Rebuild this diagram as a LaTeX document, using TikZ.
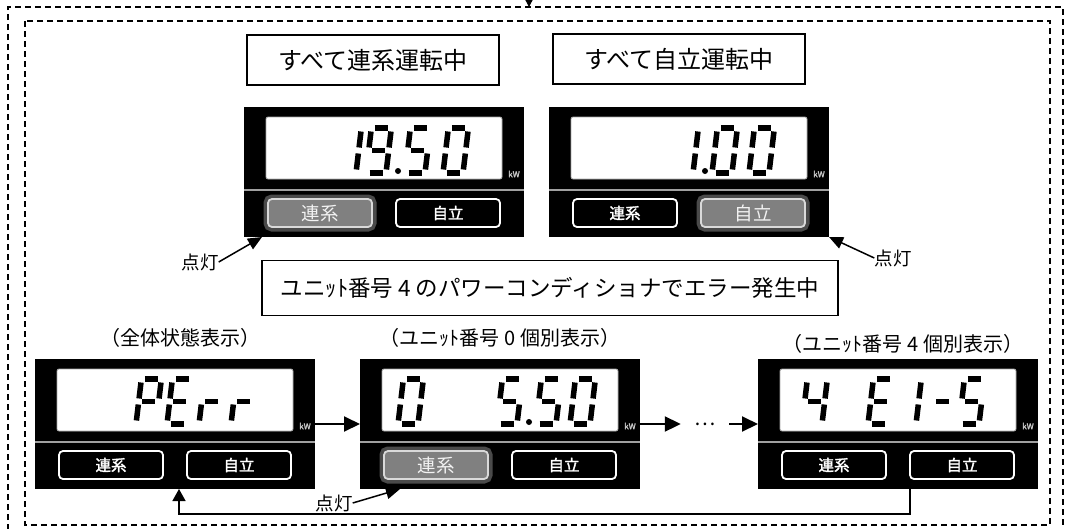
\documentclass[tikz,border=0pt]{standalone}
\usepackage{fontspec}
\setmainfont{Noto Sans CJK JP}
\newfontfamily\btnjp[AutoFakeBold=2]{Noto Sans CJK JP}
\usetikzlibrary{arrows.meta,calc}

\definecolor{litgray}{HTML}{808080}
\definecolor{glowgray}{HTML}{4A4A4A}
\definecolor{sepgray}{HTML}{A0A0A0}

% seven segment strokes, cell 20 x 45, origin at bottom left
\newcommand{\segpatha}{(3.5,-45) -- (16.5,-45)}
\newcommand{\segpathb}{(20,-41.5) -- (20,-25.5)}
\newcommand{\segpathc}{(20,-19.5) -- (20,-3.5)}
\newcommand{\segpathd}{(3.5,0) -- (16.5,0)}
\newcommand{\segpathe}{(0,-19.5) -- (0,-3.5)}
\newcommand{\segpathf}{(0,-41.5) -- (0,-25.5)}
\newcommand{\segpathg}{(3.5,-22.5) -- (16.5,-22.5)}

\newcommand{\lcdchar}[3]{%
  \begin{scope}[shift={(#1,#2)}, xslant=0.12]
    \foreach \s in {#3} {\draw[segline] \csname segpath\s\endcsname;}
  \end{scope}}

% panel: name, x, y, style of left button, style of right button
\newcommand{\lcdpanel}[5]{%
  \node[panel, anchor=north west] (#1) at (#2,#3) {};
  \node[screen, anchor=north west] (#1scr) at ([shift={(22,10)}]#1.north west) {};
  \draw[sepline] ([shift={(0,83)}]#1.north west) -- ([shift={(0,83)}]#1.north east);
  \node[#4] (#1ren) at ([shift={(76,106)}]#1.north west) {連系};
  \node[#5] (#1jir) at ([shift={(204,106)}]#1.north west) {自立};
  \node[kwlabel] (#1kw) at ([shift={(270,67)}]#1.north west) {kW};}

\begin{document}
\begin{tikzpicture}[x=1pt, y=-1pt,
    frameline/.style={dashed, dash pattern=on 6pt off 4pt, line width=1.5pt},
    titlebox/.style={draw, line width=1.2pt, minimum width=252, minimum height=50, inner sep=0pt, font=\fontsize{24}{28}\selectfont},
    errbox/.style={draw, line width=1.2pt, minimum width=576, minimum height=55, inner sep=0pt, font=\fontsize{22.5}{26}\selectfont},
    caption/.style={font=\fontsize{20}{22}\selectfont, inner sep=0pt},
    tento/.style={font=\fontsize{18.5}{20}\selectfont, inner sep=0pt},
    panel/.style={fill=black, minimum width=280, minimum height=130, inner sep=0pt, outer sep=0pt},
    screen/.style={fill=white, draw=gray!70, line width=0.8pt, rounded corners=2pt, minimum width=236, minimum height=62, inner sep=0pt, outer sep=0pt},
    sepline/.style={draw=sepgray, line width=2.5pt},
    btn/.style={draw=white, line width=1.8pt, rounded corners=4pt, fill=black, text=white, minimum width=104, minimum height=28, inner sep=0pt, font=\btnjp\bfseries\fontsize{15.5}{18}\selectfont},
    litbtn/.style={btn, fill=litgray, draw=white!85!black, text=white!95!black, preaction={draw=glowgray, line width=9pt}, font=\mdseries\fontsize{18.5}{20}\selectfont},
    kwlabel/.style={text=white!80!black, inner sep=0pt, font=\btnjp\bfseries\fontsize{8}{8}\selectfont},
    segline/.style={line width=5.5pt, line cap=butt},
    flow/.style={line width=2pt, -{Triangle[length=16pt,width=15pt]}},
    pointer/.style={line width=1.5pt, -{Triangle[length=14pt,width=12pt]}},
    retline/.style={line width=1.5pt, -{Triangle[length=12pt,width=13pt]}}]

  \useasboundingbox (0,0) rectangle (1069,528);

  % Dashed frames
  \draw[frameline] (8,540) -- (8,7) -- (1063,7) -- (1063,540);
  \draw[frameline] (25,21) rectangle (1050,525);
  \coordinate (topin) at (529,-6);
  \coordinate (topbox) at (529,7);
  \draw[line width=1.2pt, -{Triangle[length=7pt,width=7pt]}] (topin) -- (topbox);

  % Titles
  \node[titlebox] (allren) at (373,60) {すべて連系運転中};
  \node[titlebox] (alljir) at (679,59) {すべて自立運転中};
  \node[errbox] (err) at (550,288) {ユニｯﾄ番号 4 のパワーコンディショナでエラー発生中};

  % Upper panels
  \lcdpanel{Dren}{244}{107}{litbtn}{btn}
  \lcdchar{336}{173}{b,c}
  \lcdchar{366}{173}{a,b,c,d,f,g}
  \fill (398,171) circle (3pt);
  \lcdchar{405}{173}{a,c,d,f,g}
  \lcdchar{443}{173}{a,b,c,d,e,f}

  \lcdpanel{Djir}{549}{107}{btn}{litbtn}
  \lcdchar{673}{173}{b,c}
  \fill (705,171) circle (3pt);
  \lcdchar{712}{173}{a,b,c,d,e,f}
  \lcdchar{749}{173}{a,b,c,d,e,f}

  % Lamp labels
  \node[tento] (t1) at (200,262) {点灯};
  \draw[pointer] (t1.east) -- ([xshift=18pt]Dren.south west);
  \node[tento] (t2) at (893,258) {点灯};
  \draw[pointer] (t2.west) -- (Djir.south east);

  % Lower panels
  \node[caption] (capA) at (180,338) {（全体状態表示）};
  \node[caption] (capB) at (500,338) {（ユニｯﾄ番号 0 個別表示）};
  \node[caption] (capC) at (903,344) {（ユニｯﾄ番号 4 個別表示）};

  \lcdpanel{DA}{35}{359}{btn}{btn}
  \lcdchar{136}{424}{a,b,e,f,g}
  \lcdchar{167}{424}{a,d,e,f,g}
  \lcdchar{199}{424}{e,g}
  \lcdchar{231}{424}{e,g}

  \lcdpanel{DB}{360}{359}{litbtn}{btn}
  \lcdchar{398}{424}{a,b,c,d,e,f}
  \lcdchar{497}{424}{a,c,d,f,g}
  \fill (529,422) circle (3pt);
  \lcdchar{536}{424}{a,c,d,f,g}
  \lcdchar{570}{424}{a,b,c,d,e,f}

  \lcdpanel{DC}{758}{359}{btn}{btn}
  \lcdchar{802}{424}{b,c,f,g}
  \lcdchar{868}{424}{a,d,e,f,g}
  \lcdchar{896}{424}{b,c}
  \lcdchar{930}{424}{g}
  \lcdchar{959}{424}{a,c,d,f,g}

  % Flow between panels
  \node[minimum width=48, inner sep=0pt, font=\fontsize{20}{20}\selectfont] (dots) at (705,424) {…};
  \draw[flow] (DA.east) -- (DB.west);
  \draw[flow] (DB.east) -- (dots.west);
  \draw[flow] (dots.east) -- (DC.west);
  \draw[retline] ([xshift=12pt]DC.south) -- ++(0,25) -| ([xshift=4pt]DA.south);

  \node[tento] (t3) at (334,503) {点灯};
  \draw[pointer] (t3.east) -- ([xshift=40pt]DB.south west);
\end{tikzpicture}
\end{document}
